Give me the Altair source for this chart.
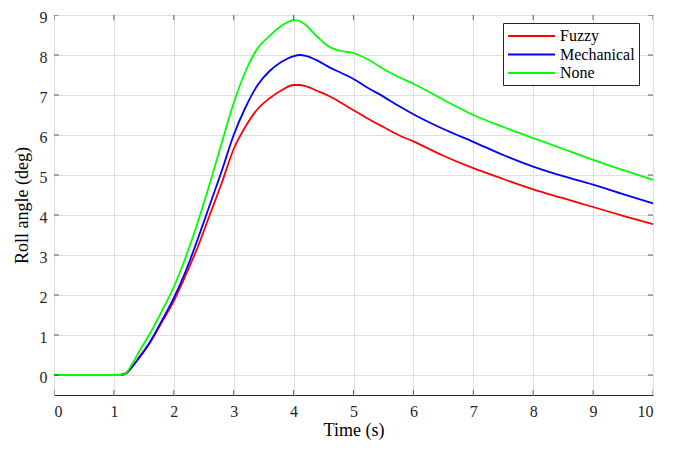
import altair as alt
import pandas as pd

# Time samples (s)
time_s = [0, 1.0, 1.1, 1.2, 1.3, 1.4, 1.5, 1.6, 1.8, 2.0, 2.2, 2.4, 2.6, 2.8, 3.0,
          3.2, 3.4, 3.6, 3.8, 4.0, 4.1, 4.2, 4.4, 4.6, 4.8, 5.0, 5.25, 5.5, 5.75,
          6.0, 6.5, 7.0, 7.5, 8.0, 8.5, 9.0, 9.5, 10.0]

# Roll angle (deg)
fuzzy = [0, 0, 0, 0.04, 0.19, 0.38, 0.58, 0.8, 1.32, 1.85, 2.5, 3.2, 4.0, 4.8, 5.65,
         6.22, 6.65, 6.92, 7.12, 7.25, 7.25, 7.22, 7.1, 6.97, 6.8, 6.62, 6.4, 6.2, 6.0,
         5.84, 5.48, 5.17, 4.9, 4.64, 4.42, 4.2, 3.98, 3.77]
mechanical = [0, 0, 0, 0.04, 0.2, 0.4, 0.6, 0.82, 1.36, 1.93, 2.6, 3.4, 4.25, 5.1, 6.0,
              6.7, 7.25, 7.6, 7.83, 7.97, 8.0, 7.98, 7.86, 7.69, 7.55, 7.4, 7.17, 6.96, 6.73,
              6.52, 6.15, 5.83, 5.5, 5.21, 4.97, 4.76, 4.52, 4.29]
none = [0, 0, 0, 0.05, 0.26, 0.53, 0.78, 1.03, 1.6, 2.2, 2.95, 3.82, 4.78, 5.8, 6.8,
        7.6, 8.17, 8.48, 8.73, 8.87, 8.85, 8.75, 8.45, 8.2, 8.1, 8.05, 7.88, 7.65, 7.45,
        7.28, 6.88, 6.5, 6.2, 5.92, 5.65, 5.38, 5.12, 4.88]

series_names = ["Fuzzy", "Mechanical", "None"]
series_colors = ["#ff0000", "#0000ff", "#00ff00"]

x_ticks = [0, 1, 2, 3, 4, 5, 6, 7, 8, 9, 10]
y_ticks = [0, 1, 2, 3, 4, 5, 6, 7, 8, 9]
x_domain = [0, 10]
y_domain = [-0.5, 9]

rows = []
for name, vals in zip(series_names, [fuzzy, mechanical, none]):
    for t, v in zip(time_s, vals):
        rows.append({"t": t, "v": v, "series": name})
df = pd.DataFrame(rows)

FONT = "Liberation Serif"
AX = "#262626"

xscale = alt.Scale(domain=x_domain, nice=False, zero=False)
yscale = alt.Scale(domain=y_domain, nice=False, zero=False)

lines = alt.Chart(df).mark_line(strokeWidth=1.8, interpolate="monotone").encode(
    x=alt.X("t:Q", scale=xscale, title="Time (s)",
            axis=alt.Axis(values=x_ticks, format="d", grid=True, ticks=False,
                          domain=False, labelPadding=8, titlePadding=2)),
    y=alt.Y("v:Q", scale=yscale, title="Roll angle (deg)",
            axis=alt.Axis(values=y_ticks, format="d", grid=True, ticks=False,
                          domain=False, labelPadding=7, labelOffset=2, titlePadding=8)),
    color=alt.Color("series:N",
                    scale=alt.Scale(domain=series_names, range=series_colors),
                    legend=alt.Legend(title=None, orient="none", legendX=449, legendY=8,
                                      symbolType="M-1,0H4.875", symbolSize=256,
                                      symbolStrokeWidth=2,
                                      labelOffset=35, labelAlign="left",
                                      rowPadding=1.5, padding=4,
                                      strokeColor=AX, fillColor="white",
                                      labelFont=FONT, labelFontSize=16,
                                      labelColor="black")),
)

xt = pd.DataFrame({"x": x_ticks})
yt = pd.DataFrame({"y": y_ticks})

tick_style = dict(color=AX, size=10, thickness=1, clip=True)
bottom_ticks = alt.Chart(xt).mark_tick(orient="vertical", **tick_style).encode(
    x=alt.X("x:Q", scale=xscale), y=alt.YDatum(y_domain[0]))
top_ticks = alt.Chart(xt).mark_tick(orient="vertical", **tick_style).encode(
    x=alt.X("x:Q", scale=xscale), y=alt.YDatum(y_domain[1]))
left_ticks = alt.Chart(yt).mark_tick(orient="horizontal", **tick_style).encode(
    y=alt.Y("y:Q", scale=yscale), x=alt.XDatum(x_domain[0]))
right_ticks = alt.Chart(yt).mark_tick(orient="horizontal", **tick_style).encode(
    y=alt.Y("y:Q", scale=yscale), x=alt.XDatum(x_domain[1]))

chart = alt.layer(lines, bottom_ticks, top_ticks, left_ticks, right_ticks).properties(
    width=599, height=380,
    background="white",
    autosize=alt.AutoSizeParams(type="none"),
    padding={"left": 46, "top": 7, "right": 10, "bottom": 47},
).configure_view(stroke=AX, strokeWidth=1).configure_axis(
    labelFont=FONT, labelFontSize=16, labelColor=AX,
    titleFont=FONT, titleFontSize=18, titleFontWeight="normal", titleColor="black",
    gridColor="#dedede", gridWidth=1,
)

chart.save("out.html", embed_options={"renderer": "svg", "actions": False})
